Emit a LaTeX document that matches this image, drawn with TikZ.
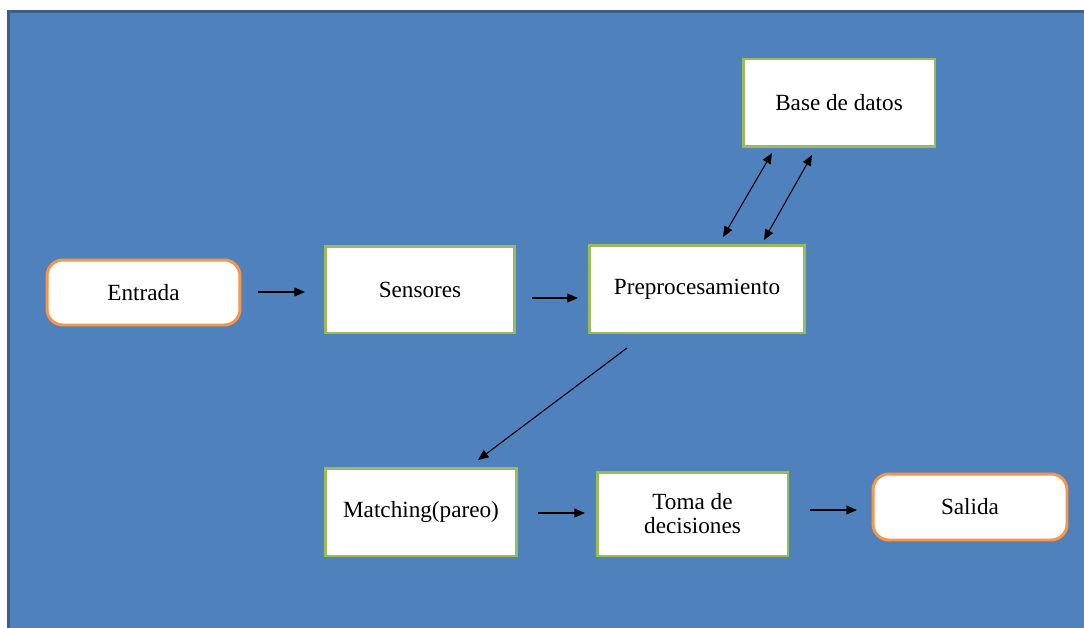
\documentclass[tikz,border=0pt]{standalone}
\usepackage{fontspec}
\setmainfont{Liberation Serif}
\usetikzlibrary{arrows.meta}
\definecolor{bgblue}{HTML}{4F81BD}
\definecolor{bgborder}{HTML}{3A5F8C}
\definecolor{boxgreen}{HTML}{9BBB59}
\definecolor{boxorange}{HTML}{F79646}
\tikzset{
  greenbox/.style={draw=boxgreen, line width=1.7pt, fill=white, rectangle, align=center, font=\fontsize{13.2}{13.6}\selectfont, inner sep=0pt},
  orangebox/.style={draw=boxorange, line width=1.7pt, fill=white, rectangle, rounded corners=9pt, align=center, font=\fontsize{13.2}{13.6}\selectfont, inner sep=0pt},
  conn/.style={-{Triangle[length=6pt,width=5pt]}, line width=0.6pt, black},
  dconn/.style={{Triangle[length=6pt,width=5pt]}-{Triangle[length=6pt,width=5pt]}, line width=0.6pt, black}
}
\begin{document}
\begin{tikzpicture}[x=0.02cm, y=-0.02cm]
\useasboundingbox (0,0) rectangle (1084,628);
\fill[white] (0,0) rectangle (1084,628);
\fill[bgblue] (7,10) rectangle (1090,640);
\draw[bgborder, line width=1.7pt] (8.5,640) -- (8.5,11.5) -- (1090,11.5);
% nodes
\node[orangebox, minimum width=3.86cm, minimum height=1.3cm] (entrada) at (143.5,292.5) {Entrada};
\node[greenbox, minimum width=3.8cm, minimum height=1.74cm] (sensores) at (420,289.5) {Sensores};
\node[greenbox, minimum width=4.32cm, minimum height=1.76cm] (prepro) at (697,289) {Preprocesamiento};
\node[greenbox, minimum width=3.84cm, minimum height=1.76cm] (base) at (839,103) {Base de datos};
\node[greenbox, minimum width=3.84cm, minimum height=1.76cm] (match) at (421,512) {Matching(pareo)};
\node[greenbox, minimum width=3.82cm, minimum height=1.68cm] (toma) at (692.5,514) {Toma de\\decisiones};
\node[orangebox, minimum width=3.88cm, minimum height=1.32cm] (salida) at (970,507) {Salida};
% connectors
\coordinate (a1s) at (258,292); \coordinate (a1e) at (305,292);
\draw[conn] (a1s) -- (a1e);
\coordinate (a2s) at (532,298); \coordinate (a2e) at (578,298);
\draw[conn] (a2s) -- (a2e);
\coordinate (d1s) at (723,237); \coordinate (d1e) at (772,153);
\draw[dconn] (d1s) -- (d1e);
\coordinate (d2s) at (764,240); \coordinate (d2e) at (812,155);
\draw[dconn] (d2s) -- (d2e);
\coordinate (a3s) at (627,348); \coordinate (a3e) at (478,460);
\draw[conn] (a3s) -- (a3e);
\coordinate (a4s) at (538,513); \coordinate (a4e) at (585,513);
\draw[conn] (a4s) -- (a4e);
\coordinate (a5s) at (810,510); \coordinate (a5e) at (857,510);
\draw[conn] (a5s) -- (a5e);
\end{tikzpicture}
\end{document}
